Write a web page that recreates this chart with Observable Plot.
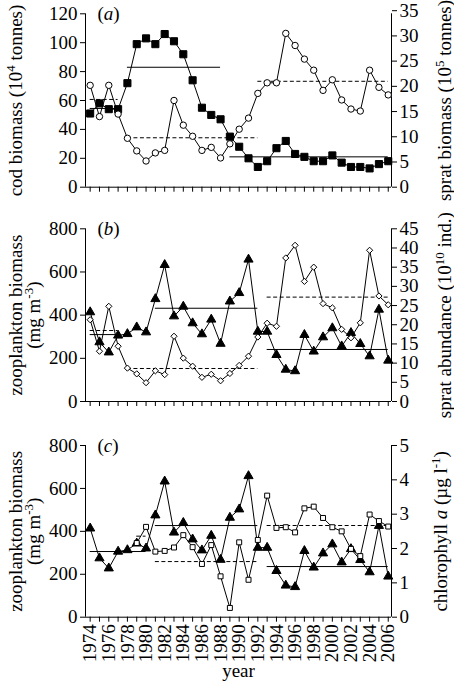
<!DOCTYPE html>
<html><head><meta charset="utf-8">
<script src="https://cdn.jsdelivr.net/npm/d3@7"></script>
<script src="https://cdn.jsdelivr.net/npm/@observablehq/plot@0.6"></script>
<style>
html,body{margin:0;padding:0;background:#fff;}
#chart svg{display:block;}
#chart svg, #chart svg text{font-family:"Liberation Serif" !important;}
</style></head><body><div id="chart"></div>
<script>
// ---- data ----
const years = [1974,1975,1976,1977,1978,1979,1980,1981,1982,1983,1984,1985,1986,1987,1988,1989,1990,1991,1992,1993,1994,1995,1996,1997,1998,1999,2000,2001,2002,2003,2004,2005,2006];
const yearLabels = [1974,1976,1978,1980,1982,1984,1986,1988,1990,1992,1994,1996,1998,2000,2002,2004,2006];
const codBiomass = [51,58,54,54,72,99,103,99,106,101,92,74,55,50,47,35,28,20,14,18,27,32,23,21,18,18,22,17,14,14,13,16,18];
const spratBiomass = [20.2,14.0,20.2,14.5,9.7,7.2,5.2,6.8,7.3,17.2,12.3,10.1,7.3,7.9,5.8,8.6,11.5,13.7,18.6,20.7,20.7,30.5,28.1,25.4,23.2,19.2,21.3,17.3,15.5,15.1,23.2,19.8,18.3];
const zooplankton = [414,275,228,306,313,344,321,475,633,395,440,363,312,380,268,464,503,658,324,324,216,148,141,309,232,298,340,256,318,267,210,426,190];
const spratAbundance = [21.3,13.1,24.8,14.4,8.7,7.2,4.9,8.0,7.0,17.0,11.3,9.2,6.3,7.1,5.4,7.3,9.4,11.8,16.8,20.4,19.6,37.4,40.7,31.3,35.0,25.5,24.4,18.8,16.6,20.5,39.4,27.5,25.2];
const chlYears = [1979,1980,1981,1982,1983,1984,1985,1986,1987,1988,1989,1990,1991,1992,1993,1994,1995,1996,1997,1998,1999,2000,2001,2002,2003,2004,2005,2006];
const chlorophyll = [2.16,2.63,1.91,1.93,2.03,2.39,2.04,1.55,2.10,1.19,0.27,2.18,1.09,2.25,3.54,2.60,2.62,2.47,3.17,3.22,2.89,2.62,2.50,1.99,1.78,2.99,2.80,2.64];

// period means: [start, end, value]
const codMeans = [[1974,1977,54.5],[1978,1988,83],[1989,2006,21]];
const spratBiomassMeans = [[1974,1977,17.4],[1978,1992,9.8],[1992,2006,21.0]];
const zooMeansB = [[1974,1977,310],[1981,1992,432],[1993,2006,241]];
const spratAbundanceMeans = [[1974,1977,18.5],[1978,1992,8.6],[1993,2006,27.2]];
const zooMeansC = [[1974,1980,306],[1981,1992,427],[1993,2006,236]];
const chlMeans = [[1979,1980,2.36],[1981,1992,1.62],[1993,2006,2.67]];

const leftTicksA = [0,20,40,60,80,100,120];
const rightTicksA = [0,5,10,15,20,25,30,35];
const leftTicksBC = [0,200,400,600,800];
const rightTicksB = [0,5,10,15,20,25,30,35,40,45];
const rightTicksC = [0,1,2,3,4,5];

// ---- helpers ----
const font = "Liberation Serif";
const xDomain = [1973.5, 2006.35];
const series = (xs, vs) => xs.map((x, i) => ({x, v: vs[i]}));
const segs = (arr) => arr.map(([a, b, v]) => ({a, b, v}));

function markup(svg) {
  d3.select(svg).selectAll("text").each(function () {
    const t = this.textContent;
    if (!/[\^_]\{/.test(t)) return;
    this.innerHTML = t
      .replace(/\^\{([^}]*)\}/g, '<tspan baseline-shift="super" font-size="68%">$1</tspan>')
      .replace(/_\{([^}]*)\}/g, '<tspan font-style="italic">$1</tspan>');
  });
  return svg;
}

function frameMarks(yMax) {
  return [
    Plot.ruleY([0], {stroke: "black", strokeWidth: 1}),
    Plot.ruleX(xDomain, {y1: 0, y2: yMax, stroke: "black", strokeWidth: 1}),
    Plot.axisX(years, {anchor: "bottom", tickSize: 5, tickFormat: () => "", label: null})
  ];
}

function panel(o) {
  const k = o.k;
  const marks = [
    ...frameMarks(o.yMax),
    Plot.axisY(o.leftTicks, {anchor: "left", tickSize: 5, tickPadding: 3, label: null}),
    Plot.axisY(o.rightTicks.map(v => v * k), {anchor: "right", tickSize: 5, tickPadding: 3, label: null, tickFormat: d => String(Math.round(d / k))}),
    Plot.ruleY(segs(o.leftMeans), {x1: "a", x2: "b", y: "v", stroke: "black", strokeWidth: 1}),
    Plot.ruleY(segs(o.rightMeans), {x1: "a", x2: "b", y: d => d.v * k, stroke: "black", strokeWidth: 1, strokeDasharray: "4,2.5"}),
    Plot.line(o.left, {x: "x", y: "v", stroke: "black", strokeWidth: 1}),
    Plot.line(o.right, {x: "x", y: d => d.v * k, stroke: "black", strokeWidth: 1}),
    Plot.dot(o.left, {x: "x", y: "v", ...o.leftSym, stroke: "black", strokeWidth: 1}),
    Plot.dot(o.right, {x: "x", y: d => d.v * k, ...o.rightSym, stroke: "black", strokeWidth: 1}),
    Plot.text([o.tag], {frameAnchor: "top-left", dx: 12, textAnchor: "start", lineAnchor: "middle"}),
    ...o.leftTitles.map(([t, dx]) => Plot.text([t], {frameAnchor: "left", dx, rotate: -90, textAnchor: "middle", lineAnchor: "middle"})),
    Plot.text([o.rightTitle], {frameAnchor: "right", dx: o.rightDx, rotate: -90, textAnchor: "middle", lineAnchor: "middle"}),
    ...(o.extra || [])
  ];
  return markup(Plot.plot({
    width: 454,
    height: o.height,
    marginLeft: 85,
    marginRight: 63,
    marginTop: o.marginTop,
    marginBottom: o.marginBottom,
    x: {domain: xDomain},
    y: {domain: [0, o.yMax]},
    style: {fontFamily: font, fontSize: "19px", background: "white", color: "black", overflow: "visible"},
    marks
  }));
}

const chart = document.getElementById("chart");

chart.appendChild(panel({
  height: 214, marginTop: 13.3, marginBottom: 27.3, yMax: 120, k: 3.49,
  leftTicks: leftTicksA, rightTicks: rightTicksA,
  left: series(years, codBiomass), right: series(years, spratBiomass),
  leftMeans: codMeans, rightMeans: spratBiomassMeans,
  leftSym: {symbol: "square", r: 4, fill: "black"},
  rightSym: {symbol: "circle", r: 3.2, fill: "white"},
  tag: "(_{a})",
  leftTitles: [["cod biomass (10^{4} tonnes)", -70]],
  rightTitle: "sprat biomass (10^{5} tonnes)", rightDx: 53
}));

chart.appendChild(panel({
  height: 216, marginTop: 14.3, marginBottom: 29, yMax: 800, k: 800 / 45,
  leftTicks: leftTicksBC, rightTicks: rightTicksB,
  left: series(years, zooplankton), right: series(years, spratAbundance),
  leftMeans: zooMeansB, rightMeans: spratAbundanceMeans,
  leftSym: {symbol: "triangle", r: 3.4, fill: "black"},
  rightSym: {symbol: "diamond2", r: 2.8, fill: "white"},
  tag: "(_{b})",
  leftTitles: [["zooplankton biomass", -70], ["(mg m^{-3})", -52]],
  rightTitle: "sprat abundance (10^{10} ind.)", rightDx: 53
}));

chart.appendChild(panel({
  height: 256, marginTop: 15, marginBottom: 69.3, yMax: 800, k: 160,
  leftTicks: leftTicksBC, rightTicks: rightTicksC,
  left: series(years, zooplankton), right: series(chlYears, chlorophyll),
  leftMeans: zooMeansC, rightMeans: chlMeans,
  leftSym: {symbol: "triangle", r: 3.4, fill: "black"},
  rightSym: {symbol: "square", r: 2.8, fill: "white"},
  tag: "(_{c})",
  leftTitles: [["zooplankton biomass", -70], ["(mg m^{-3})", -52]],
  rightTitle: "chlorophyll _{a} (µg l^{-1})", rightDx: 49,
  extra: [
    Plot.axisX(yearLabels, {anchor: "bottom", tickSize: 0, tickPadding: 7, tickRotate: -90, label: null, tickFormat: d => String(d)}),
    Plot.text(["year"], {frameAnchor: "bottom", dy: 60})
  ]
}));
</script></body></html>
